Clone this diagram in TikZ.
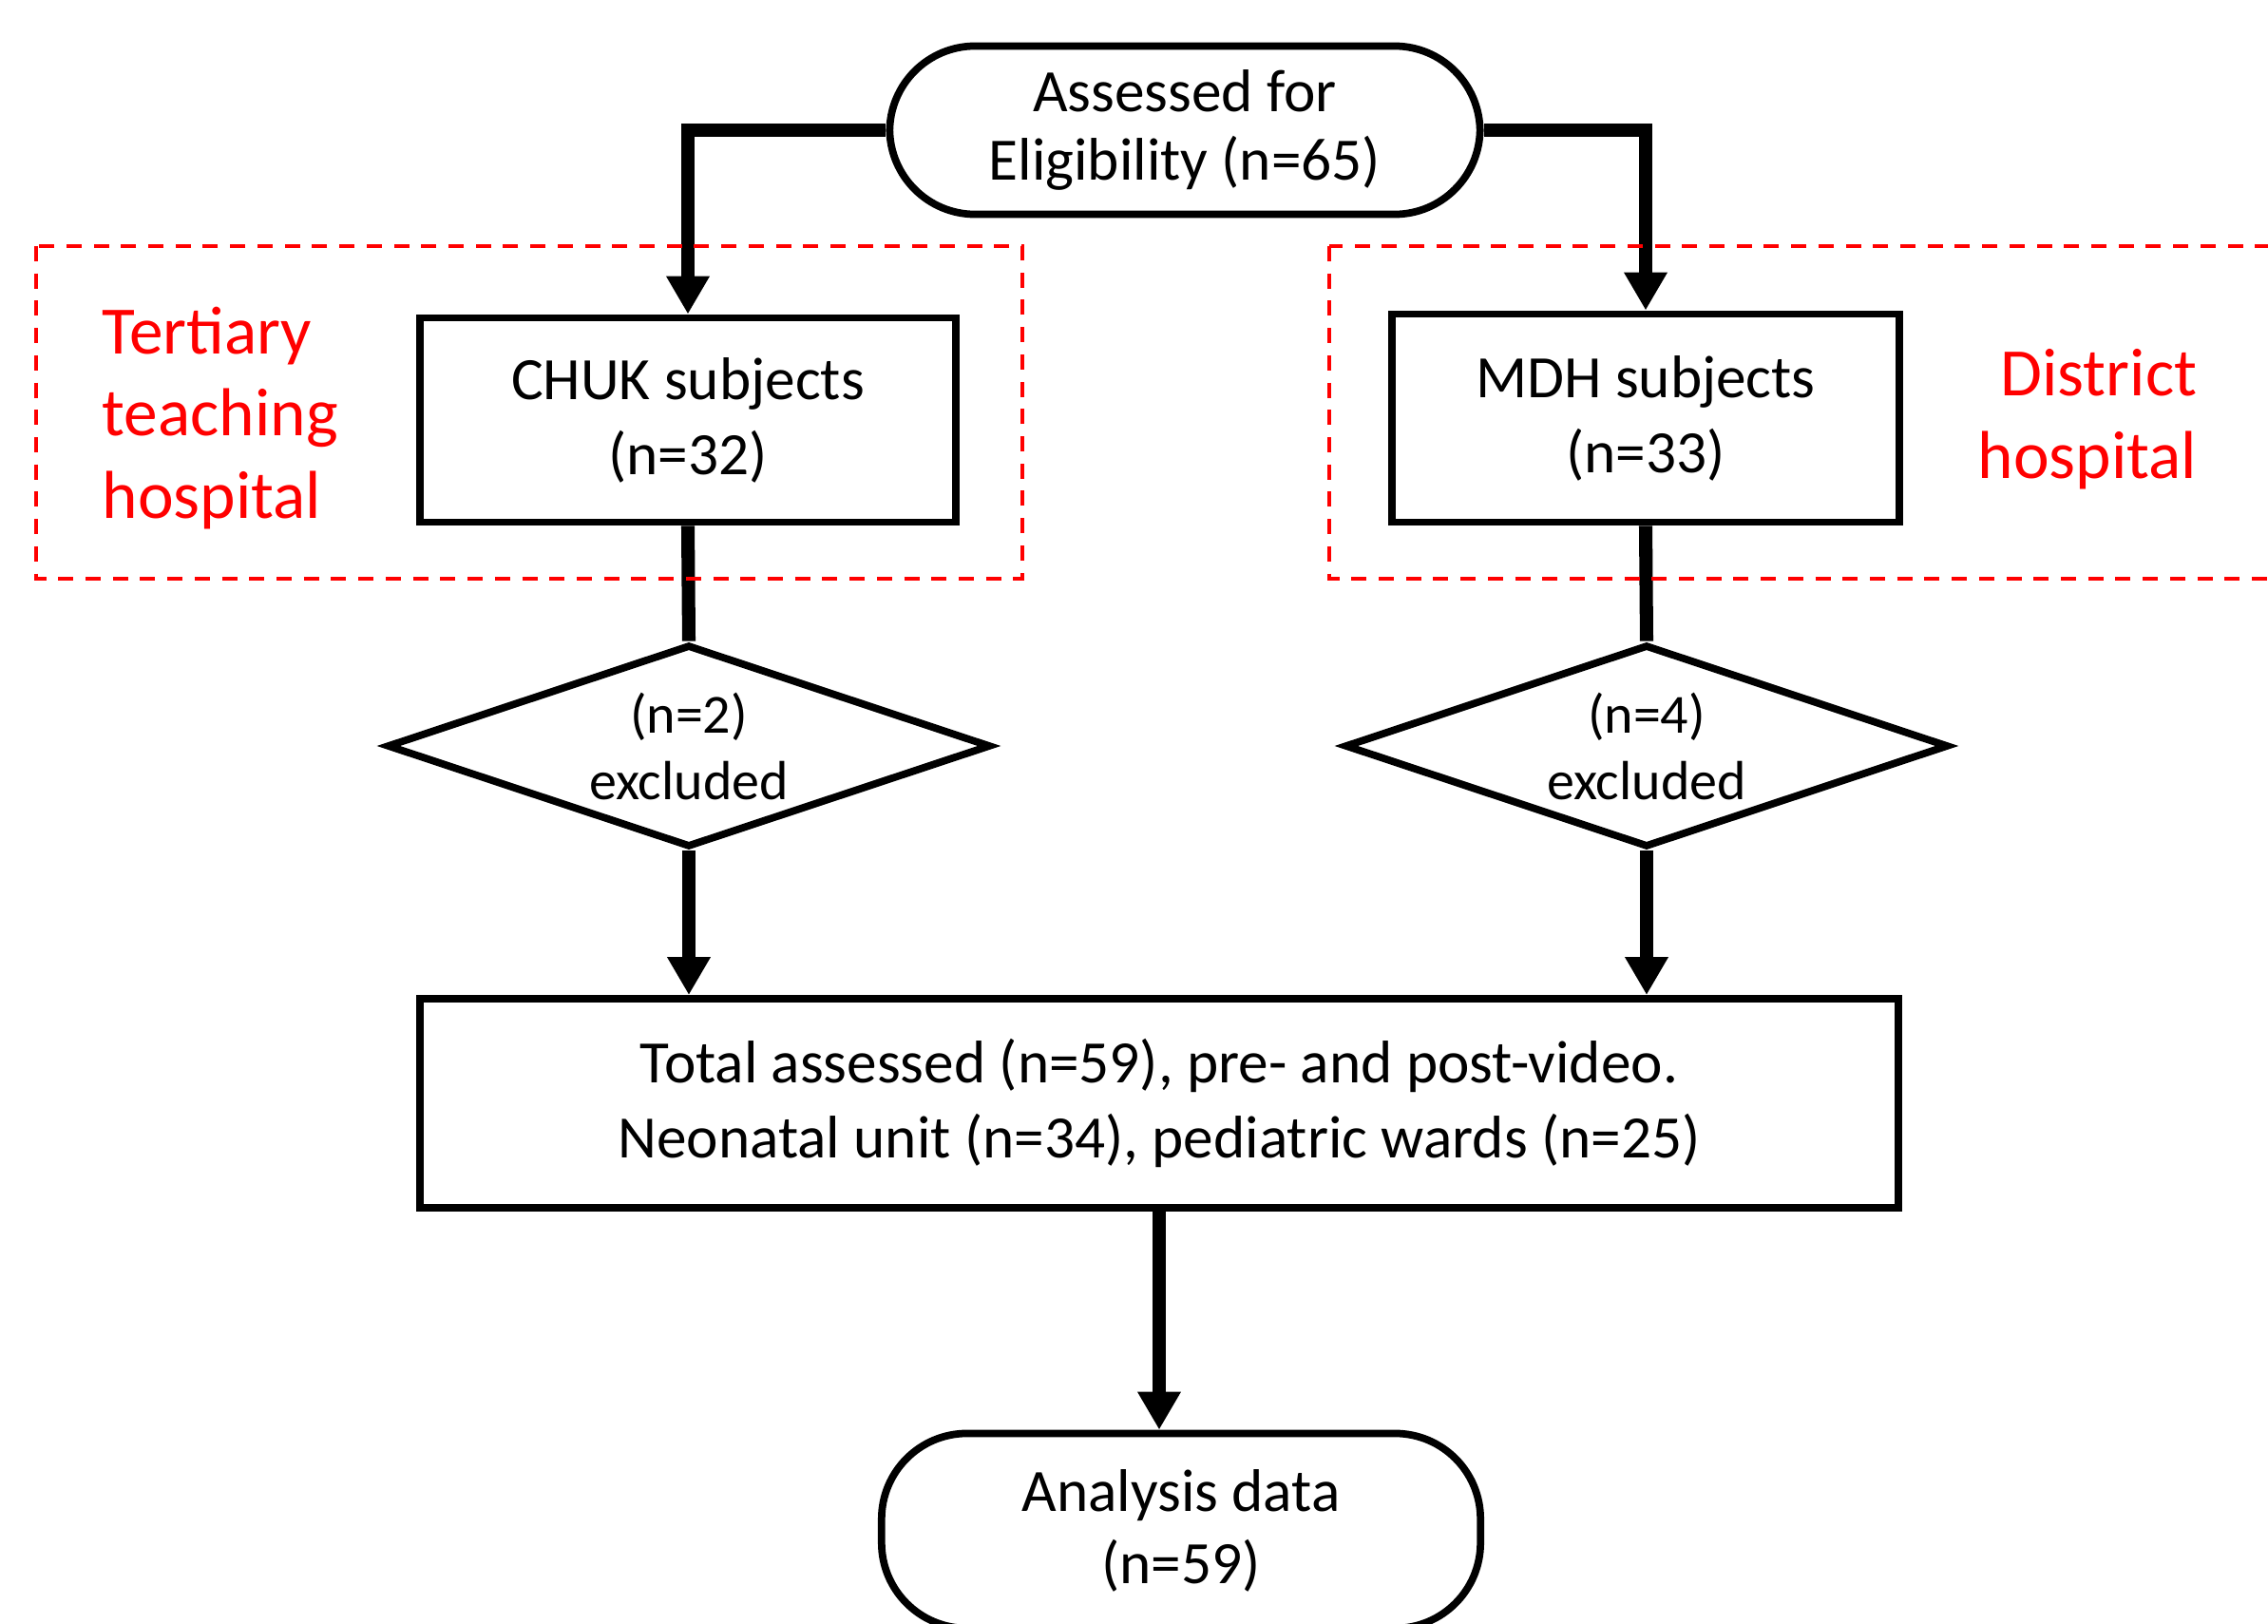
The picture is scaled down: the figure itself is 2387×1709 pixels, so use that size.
\documentclass[tikz,border=0pt]{standalone}
\usepackage{fontspec}
\setmainfont{Carlito}
\usetikzlibrary{shapes.geometric}
\usetikzlibrary{arrows.meta}
\definecolor{hred}  {RGB}{255,0,0}
\definecolor{fblack}{RGB}{0,0,0}
\tikzset{
    startstop/.style={draw=fblack, line width=2.2pt, rounded corners=0.9cm,
             align=center, inner sep=0pt},
    process/.style={draw=fblack, line width=2.2pt, align=center, inner sep=0pt},
    decision/.style={draw=fblack, diamond, aspect=2.9, line width=2.2pt,
             align=center, inner sep=0pt},
    link/.style={draw=fblack, line width=4pt},
    flow/.style={draw=fblack, line width=4pt,
             -{Triangle[width=0.43cm,length=0.40cm]}},
    site/.style={draw=hred, line width=1.3pt, dash pattern=on 0.16cm off 0.127cm},
    sitelabel/.style={text=hred, inner sep=0pt, font=\fontsize{20.3}{24.7}\selectfont}
  }

\begin{document}
\begin{tikzpicture}[x=0.01cm, y=-0.01cm]
 \useasboundingbox (0,0) rectangle (2387,1709);
 %Start
     \node[startstop, minimum width=6.21cm, minimum height=1.77cm,
           font=\fontsize{18}{20.4}\selectfont] (elig) at (1247,137) {Assessed for\\Eligibility (n=65)};
 %Sites
     \node[process, minimum width=5.63cm, minimum height=2.15cm,
           font=\fontsize{18}{22.5}\selectfont] (chuk) at (724,442) {CHUK subjects\\(n=32)};
     \node[process, minimum width=5.33cm, minimum height=2.19cm,
           font=\fontsize{18}{22.5}\selectfont] (mdh) at (1732,440) {MDH subjects\\(n=33)};
 %Exclusions
     \node[decision, minimum width=6.35cm, minimum height=2.13cm,
           font=\fontsize{16.5}{19.9}\selectfont] (chukex) at (725,785) {(n=2)\\excluded};
     \node[decision, minimum width=6.35cm, minimum height=2.13cm,
           font=\fontsize{16.5}{19.9}\selectfont] (mdhex) at (1733,785) {(n=4)\\excluded};
 %Total
     \node[process, minimum width=15.55cm, minimum height=2.2cm,
           font=\fontsize{18}{22.5}\selectfont] (total) at (1220,1161)
           {Total assessed (n=59), pre- and post-video.\\Neonatal unit (n=34), pediatric wards (n=25)};
 %End
     \node[startstop, minimum width=6.3cm, minimum height=2.05cm,
           font=\fontsize{18}{21.6}\selectfont] (ana) at (1243,1611) {Analysis data\\(n=59)};
 %Connectors
     \draw[flow] (elig.west) -| (chuk.north);
     \draw[flow] (elig.east) -| (mdh.north);
     \draw[link] (chuk.south) -- (chukex.north);
     \draw[link] (mdh.south) -- (mdhex.north);
     \draw[flow] (chukex.south) -- (chukex.south |- total.north);
     \draw[flow] (mdhex.south) -- (mdhex.south |- total.north);
     \draw[flow] (total.south) -- (total.south |- ana.north);
 %Hospital groups
     \draw[site] (38,259) rectangle (1076,609);
     \draw[site] (1399,259) rectangle (2420,609);
     \node[sitelabel, align=left, anchor=west] (tert) at (107,440) {Tertiary\\teaching\\hospital};
     \node[sitelabel, align=right, anchor=east] (dist) at (2313,441) {District\\hospital};
 \end{tikzpicture}
\end{document}
